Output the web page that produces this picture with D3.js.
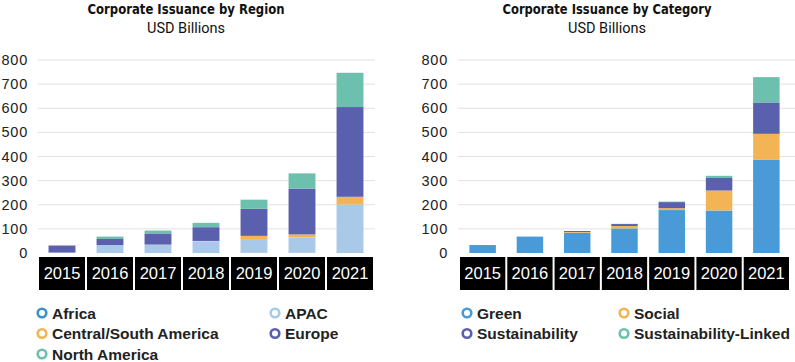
<!DOCTYPE html>
<html><head><meta charset="utf-8">
<script src="https://cdn.jsdelivr.net/npm/d3@7"></script>
<style>body{margin:0;background:#fff}svg{display:block}</style>
</head><body>
<svg id="c" width="795" height="362"></svg>
<script>
const years = ["2015","2016","2017","2018","2019","2020","2021"];
const yTicks = [0,100,200,300,400,500,600,700,800];

const regionKeys = ["Africa","APAC","Central/South America","Europe","North America"];
const africa = [0,0,0,0,1,1,2];
const apac = [2,33,34,48,57,64,199];
const centralSouthAmerica = [0,0,1,2,13,12,32];
const europe = [28,25,46,57,112,190,372];
const northAmerica = [3,10,12,18,38,63,142];

const categoryKeys = ["Green","Social","Sustainability","Sustainability-Linked"];
const green = [33,68,84,102,178,176,386];
const social = [0,0,3,10,8,83,108];
const sustainability = [0,0,4,8,25,52,130];
const sustainabilityLinked = [0,0,0,1,2,9,105];

const regionColors = {"Africa":"#3e8fcd","APAC":"#a9c9e8","Central/South America":"#f2b455","Europe":"#5a5fae","North America":"#6dbfae"};
const categoryColors = {"Green":"#4a9ad8","Social":"#f2b455","Sustainability":"#5a5fae","Sustainability-Linked":"#6dbfae"};

const regionRows = years.map((y,i)=>({year:y,"Africa":africa[i],"APAC":apac[i],"Central/South America":centralSouthAmerica[i],"Europe":europe[i],"North America":northAmerica[i]}));
const categoryRows = years.map((y,i)=>({year:y,"Green":green[i],"Social":social[i],"Sustainability":sustainability[i],"Sustainability-Linked":sustainabilityLinked[i]}));

const svg = d3.select("#c");

function chart(o){
  const g = svg.append("g");
  const x = d3.scaleBand().domain(years).range([o.x0,o.x1]).padding(0);
  const y = d3.scaleLinear().domain([0,800]).range([253,60]);
  // titles
  g.append("text").attr("x",o.cx).attr("y",13.5).attr("text-anchor","middle")
    .attr("font-family","'DejaVu Sans Condensed','DejaVu Sans',sans-serif").attr("font-weight","bold")
    .attr("font-size",14).attr("fill","#111").attr("textLength",o.tl).attr("lengthAdjust","spacingAndGlyphs")
    .text(o.title);
  g.append("text").attr("x",o.cx).attr("y",32.5).attr("text-anchor","middle")
    .attr("font-family","'Roboto',sans-serif").attr("font-size",14.5).attr("fill","#111").text("USD Billions");
  // grid
  g.selectAll(".grid").data(yTicks.filter(d=>d>0)).join("line")
    .attr("x1",o.gx0).attr("x2",o.gx1).attr("y1",d=>y(d)).attr("y2",d=>y(d))
    .attr("stroke","#e2e2e2").attr("stroke-width",1);
  // tick labels
  g.selectAll(".tl").data(yTicks).join("text")
    .attr("x",o.lx).attr("y",d=>y(d)+5).attr("text-anchor","end")
    .attr("font-family","'Liberation Sans',Arial,sans-serif").attr("font-size",14.5).attr("letter-spacing",0.8)
    .attr("fill","#222").text(d=>d);
  // stacked bars
  const series = d3.stack().keys(o.keys)(o.rows);
  const bw = x.bandwidth()*0.56;
  g.selectAll(".s").data(series).join("g").attr("fill",d=>o.colors[d.key])
    .selectAll("rect").data(d=>d).join("rect")
    .attr("x",d=>x(d.data.year)+(x.bandwidth()-bw)/2).attr("width",bw)
    .attr("y",d=>y(d[1])).attr("height",d=>Math.max(0,y(d[0])-y(d[1])));
  // year boxes
  const yb = g.selectAll(".yb").data(years).join("g");
  yb.append("rect").attr("x",d=>x(d)+1).attr("width",x.bandwidth()-2).attr("y",257).attr("height",33).attr("fill","#000");
  yb.append("text").attr("x",d=>x(d)+x.bandwidth()/2).attr("y",279).attr("text-anchor","middle")
    .attr("font-family","'Liberation Sans',Arial,sans-serif").attr("font-size",16.5).attr("fill","#fff").text(d=>d);
  // legend
  const lg = g.selectAll(".lg").data(o.keys).join("g")
    .attr("transform",(d,i)=>`translate(${o.legX[i%2]},${313+Math.floor(i/2)*20.5})`);
  lg.append("circle").attr("cx",0).attr("cy",0).attr("r",4.3).attr("fill","none")
    .attr("stroke",d=>o.colors[d]).attr("stroke-width",2.6);
  lg.append("text").attr("x",10).attr("y",5.5).attr("font-family","'Liberation Sans',Arial,sans-serif")
    .attr("font-weight","bold").attr("font-size",15.5).attr("fill","#222").text(d=>d);
}

chart({title:"Corporate Issuance by Region",tl:197,cx:186,x0:38,x1:374,gx0:38,gx1:375,lx:28,
  keys:regionKeys,rows:regionRows,colors:regionColors,legX:[42,275]});
chart({title:"Corporate Issuance by Category",tl:209,cx:607,x0:459,x1:790,gx0:458,gx1:795,lx:448,
  keys:categoryKeys,rows:categoryRows,colors:categoryColors,legX:[467,624]});
</script>
</body></html>
